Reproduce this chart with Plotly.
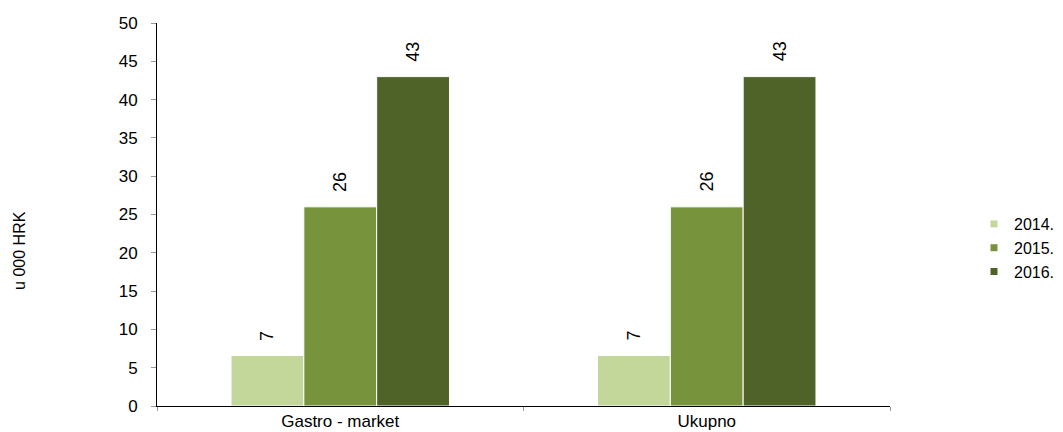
import plotly.graph_objects as go

categories = ["Gastro - market", "Ukupno"]
years = ["2014.", "2015.", "2016."]
values_2014 = [6.6, 6.6]
values_2015 = [26, 26]
values_2016 = [43, 43]
labels_2014 = ["7", "7"]
labels_2015 = ["26", "26"]
labels_2016 = ["43", "43"]
colors = ["#c4d79b", "#77933c", "#4f6228"]

series = [(values_2014, labels_2014), (values_2015, labels_2015), (values_2016, labels_2016)]
BARGAP = 0.404
FONT = "Liberation Sans, Arial, sans-serif"

# page body has an 8px margin, so the figure is drawn slightly smaller
W, H = 1055, 424
L, R, T, B = 149, 173, 15, 26
PW = W - L - R

fig = go.Figure()
annotations = []
n = len(series)
bw = (1 - BARGAP) / n
for i, ((vals, labs), name, col) in enumerate(zip(series, years, colors)):
    fig.add_trace(go.Bar(
        x=categories, y=vals, name=name, showlegend=False,
        marker=dict(color=col, line=dict(color="#ffffff", width=1)),
    ))
    # legend proxy with small square marker
    fig.add_trace(go.Scatter(
        x=[None], y=[None], mode="markers", name=name,
        marker=dict(symbol="square", size=7, color=col),
    ))
    for j, (v, lab) in enumerate(zip(vals, labs)):
        annotations.append(dict(
            x=j + (i - (n - 1) / 2) * bw, y=v, xref="x", yref="y",
            text=lab, textangle=-90, showarrow=False,
            xanchor="center", yanchor="bottom", yshift=13,
            font=dict(family=FONT, size=18, color="#000000"),
        ))

annotations.append(dict(text="u 000 HRK", xref="paper", yref="paper",
                        x=(12 - L) / PW, y=0.405, textangle=-90, showarrow=False,
                        font=dict(family=FONT, size=16, color="#000000"),
                        xanchor="center", yanchor="middle"))

fig.update_layout(
    width=W, height=H,
    margin=dict(l=L, r=R, t=T, b=B, autoexpand=False),
    plot_bgcolor="white", paper_bgcolor="white",
    barmode="group", bargap=BARGAP, bargroupgap=0,
    font=dict(family=FONT, size=16, color="#000000"),
    showlegend=True,
    legend=dict(x=(966 - L) / PW, y=0.4125, xanchor="left", yanchor="middle",
                font=dict(size=16), itemwidth=30, tracegroupgap=0),
    xaxis=dict(showline=True, linecolor="#000000", linewidth=1,
               ticks="outside", tickson="boundaries", ticklen=4, tickcolor="#999999",
               tickfont=dict(size=17), showgrid=False),
    yaxis=dict(range=[0, 50], dtick=5, showline=True, linecolor="#000000", linewidth=1,
               ticks="outside", ticklen=5, tickcolor="#999999", showgrid=False,
               tickfont=dict(size=17), zeroline=False, ticklabelstandoff=10),
    annotations=annotations,
)

fig.write_html("out.html")
